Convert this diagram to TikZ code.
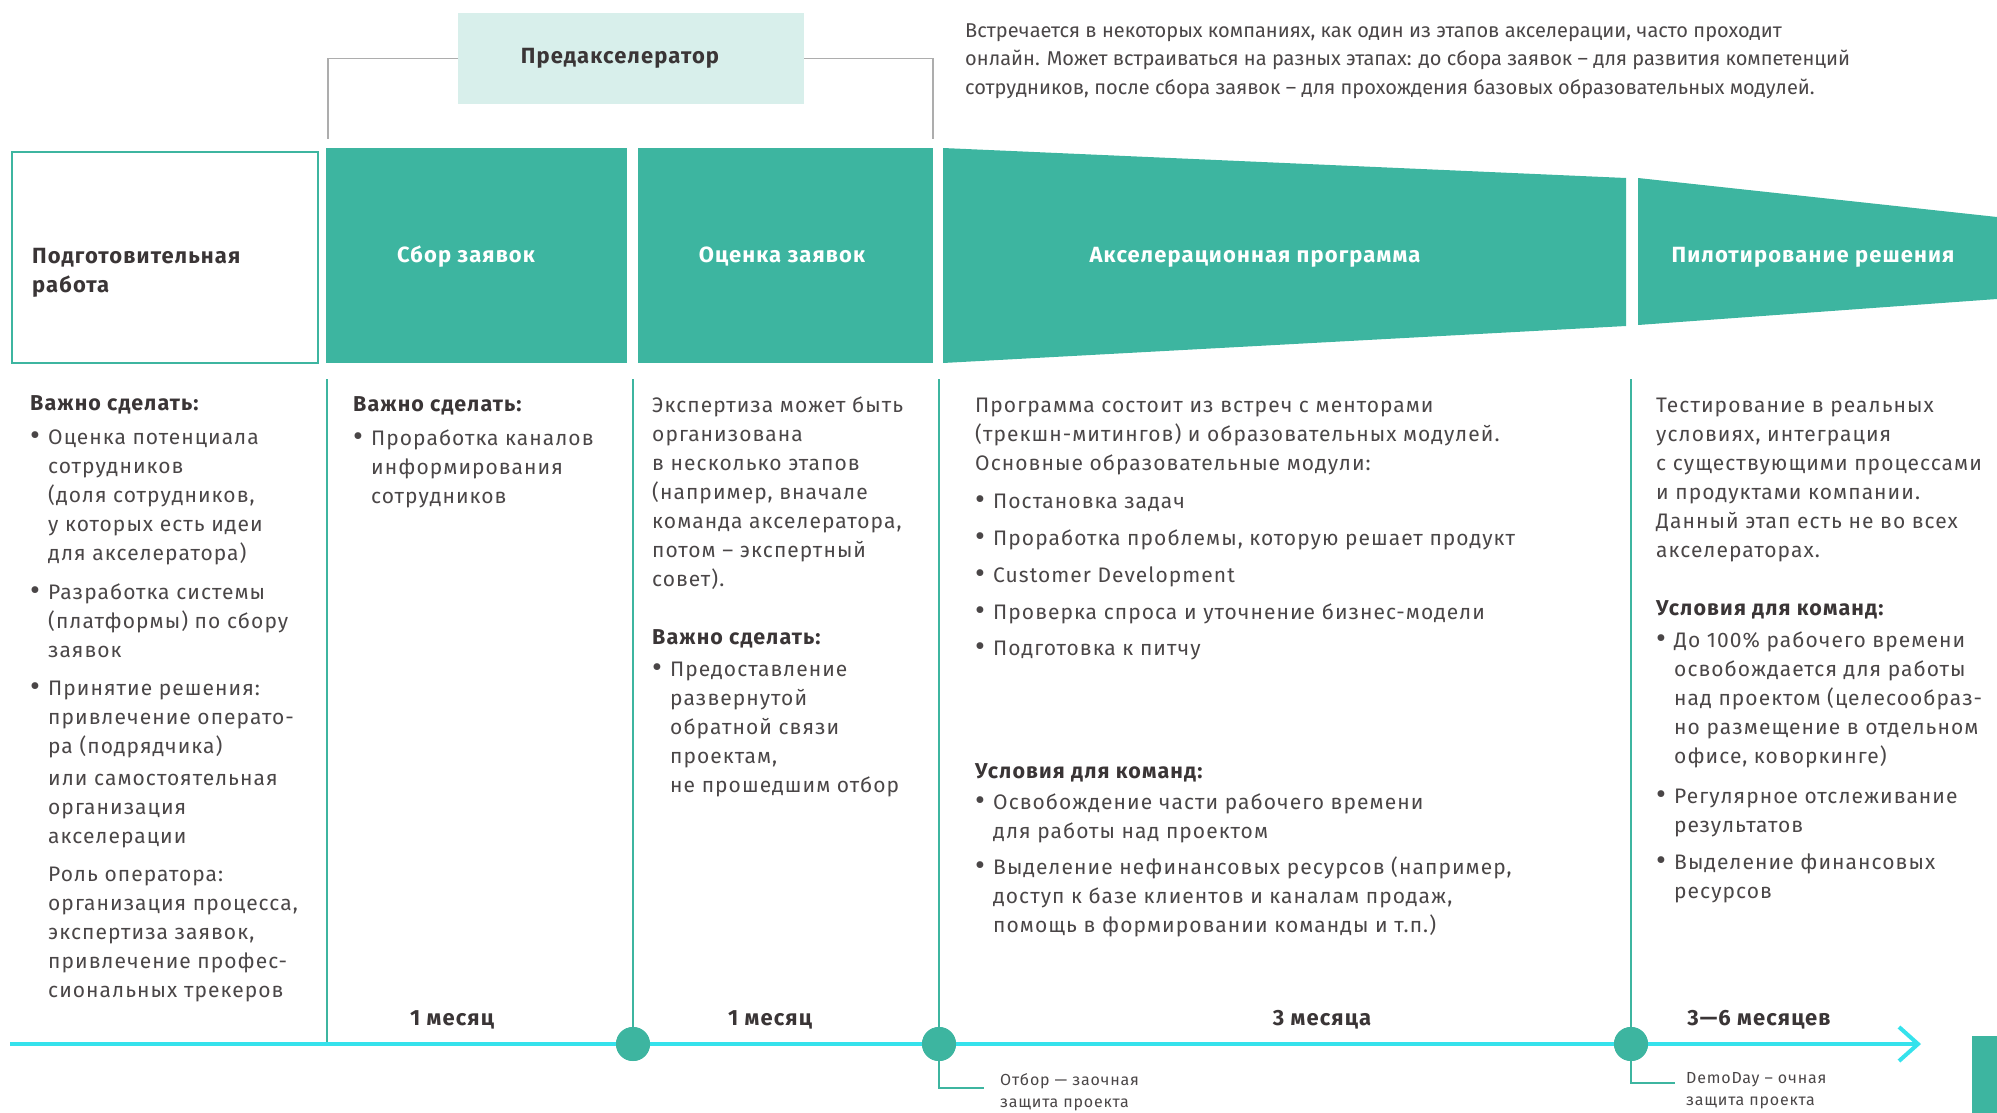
\documentclass[tikz,border=0pt]{standalone}
\usepackage{fontspec}
\setmainfont{Fira Sans}[LetterSpace=5]
\newfontfamily\descfont{Fira Sans}
\usetikzlibrary{calc}
\definecolor{tealbox}{HTML}{3DB5A0}
\definecolor{mint}{HTML}{D8EFEB}
\definecolor{cyanline}{HTML}{35E2EC}
\definecolor{bodytxt}{HTML}{4A4647}
\definecolor{darktxt}{HTML}{3A3536}
\definecolor{bracketgray}{HTML}{ADADAD}
\newcommand{\fsbody}{\fontsize{21}{29}\selectfont}
\newcommand{\fstop}{\descfont\fontsize{20}{28.5}\selectfont}
\newcommand{\fssmall}{\fontsize{16}{22}\selectfont}
\newcommand{\bl}{\makebox[18pt][l]{\raisebox{-0.5pt}{\scalebox{1.45}{•}}}}
\newcommand{\ii}{\hspace*{18pt}}
\newcommand{\hd}[1]{\textcolor{darktxt}{\fontsize{21.5}{29}\selectfont\textbf{#1}}}
\begin{document}
\begin{tikzpicture}[x=1pt,y=-1pt,
  body/.style={anchor=north west, inner sep=0pt, align=left, font=\fsbody, text=bodytxt},
  tealrect/.style={anchor=north west, fill=tealbox, inner sep=0pt, draw=none},
  boxlabel/.style={font=\fontsize{22}{26}\selectfont\bfseries, text=white, inner sep=0pt},
  sep/.style={tealbox, line width=1.3pt},
  dur/.style={font=\fontsize{22}{26}\selectfont\bfseries, text=darktxt, inner sep=0pt},
  dot/.style={circle, fill=tealbox, minimum size=34pt, inner sep=0pt},
  callout/.style={tealbox, line width=1.2pt},
  small/.style={anchor=north west, inner sep=0pt, align=left, font=\fssmall, text=bodytxt},
  brk/.style={bracketgray, line width=1.2pt}
]
\useasboundingbox (0,0) rectangle (1997,1113);

% --- Pre-accelerator
\node[anchor=north west, fill=mint, minimum width=346pt, minimum height=91pt, inner sep=0pt] (pre) at (458,13) {};
\node[font=\fontsize{22}{26}\selectfont\bfseries, text=darktxt, inner sep=0pt] (pretxt) at (620,58) {Предакселератор};
\coordinate (bl) at (328,139);
\coordinate (br) at (933,139);
\draw[brk] (pre.west) -| (bl);
\draw[brk] (pre.east) -| (br);

\node[anchor=north west, inner sep=0pt, align=left, font=\fstop, text=bodytxt] (desc) at (965,17) {\strut Встречается в некоторых компаниях, как один из этапов акселерации, часто проходит\\
онлайн. Может встраиваться на разных этапах: до сбора заявок – для развития компетенций\\
сотрудников, после сбора заявок – для прохождения базовых образовательных модулей.};

% --- Stage boxes
\node[anchor=north west, draw=tealbox, line width=2pt, minimum width=306pt, minimum height=211pt, inner sep=0pt] (b1) at (11,151) {};
\node[anchor=north west, inner sep=0pt, align=left, font=\fontsize{22}{29}\selectfont\bfseries, text=darktxt] (b1t) at (32,243) {\strut Подготовительная\\работа};

\node[tealrect, minimum width=301pt, minimum height=215pt] (b2) at (326,148) {};
\node[boxlabel] (b2t) at (466,257) {Сбор заявок};

\node[tealrect, minimum width=295pt, minimum height=215pt] (b3) at (638,148) {};
\node[boxlabel] (b3t) at (782,257) {Оценка заявок};

\fill[tealbox] (943,148) -- (1626,178) -- (1626,326) -- (943,363) -- cycle;
\node[boxlabel] (b4t) at (1255,257) {Акселерационная программа};

\fill[tealbox] (1638,178) -- (1997,217) -- (1997,299) -- (1638,325) -- cycle;
\node[boxlabel] (b5t) at (1813,257) {Пилотирование решения};

% --- Timeline
\coordinate (tl0) at (10,1044);
\coordinate (tl1) at (1918,1044);
\node[dot] (c1) at (633,1044) {};
\node[dot] (c2) at (939,1044) {};
\node[dot] (c3) at (1631,1044) {};
\coordinate (s0) at (327,379);
\coordinate (s0b) at (327,1044);
\coordinate (s1) at (633,379);
\coordinate (s2) at (939,379);
\coordinate (s3) at (1631,379);
\draw[sep] (s0) -- (s0b);
\draw[sep] (s1) -- (c1.center);
\draw[sep] (s2) -- (c2.center);
\draw[sep] (s3) -- (c3.center);
\draw[cyanline, line width=4.5pt] (tl0) -- (tl1);
\draw[cyanline, line width=4pt] ($(tl1)+(-19,-17)$) -- (tl1) -- ($(tl1)+(-19,17)$);
\node[dot] at (c1) {};
\node[dot] at (c2) {};
\node[dot] at (c3) {};

\node[dur] (d1) at (452,1020) {1 месяц};
\node[dur] (d2) at (770,1020) {1 месяц};
\node[dur] (d3) at (1322,1020) {3 месяца};
\node[dur] (d4) at (1759,1020) {3—6 месяцев};

% callouts
\coordinate (co1) at (984,1088);
\coordinate (co2) at (1675,1083);
\draw[callout] (c2.south) |- (co1);
\draw[callout] (c3.south) |- (co2);
\node[small] (co1t) at (1000,1070) {\strut Отбор — заочная\\защита проекта};
\node[small] (co2t) at (1686,1068) {\strut DemoDay – очная\\защита проекта};

\node[anchor=north west, fill=tealbox, minimum width=25pt, minimum height=77pt, inner sep=0pt] (corner) at (1972,1036) {};

% --- Column texts
\node[body] (t1) at (30,390) {\strut\hd{Важно сделать:}\\[5pt]
\bl Оценка потенциала\\
\ii сотрудников\\
\ii (доля сотрудников,\\
\ii у которых есть идеи\\
\ii для акселератора)\\[10pt]
\bl Разработка системы\\
\ii (платформы) по сбору\\
\ii заявок\\[9pt]
\bl Принятие решения:\\
\ii привлечение операто-\\
\ii ра (подрядчика)\\[3pt]
\ii или самостоятельная\\
\ii организация\\
\ii акселерации\\[9pt]
\ii Роль оператора:\\
\ii организация процесса,\\
\ii экспертиза заявок,\\
\ii привлечение профес-\\
\ii сиональных трекеров};

\node[body] (t2) at (353,391) {\strut\hd{Важно сделать:}\\[5pt]
\bl Проработка каналов\\
\ii информирования\\
\ii сотрудников};

\node[body] (t3) at (652,392) {\strut Экспертиза может быть\\
организована\\
в несколько этапов\\
(например, вначале\\
команда акселератора,\\
потом – экспертный\\
совет).\\[29pt]
\hd{Важно сделать:}\\[3pt]
\bl Предоставление\\
\ii развернутой\\
\ii обратной связи\\
\ii проектам,\\
\ii не прошедшим отбор};

\node[body] (t4) at (975,392) {\strut Программа состоит из встреч с менторами\\
(трекшн-митингов) и образовательных модулей.\\
Основные образовательные модули:\\[9pt]
\bl Постановка задач\\[8pt]
\bl Проработка проблемы, которую решает продукт\\[8pt]
\bl Customer Development\\[8pt]
\bl Проверка спроса и уточнение бизнес-модели\\[7pt]
\bl Подготовка к питчу};

\node[body] (t4b) at (975,758) {\strut\hd{Условия для команд:}\\[2pt]
\bl Освобождение части рабочего времени\\
\ii для работы над проектом\\[7pt]
\bl Выделение нефинансовых ресурсов (например,\\
\ii доступ к базе клиентов и каналам продаж,\\
\ii помощь в формировании команды и т.п.)};

\node[body] (t5) at (1656,392) {\strut Тестирование в реальных\\
условиях, интеграция\\
с существующими процессами\\
и продуктами компании.\\
Данный этап есть не во всех\\
акселераторах.};

\node[body] (t5b) at (1656,595) {\strut\hd{Условия для команд:}\\[3pt]
\bl До 100\% рабочего времени\\
\ii освобождается для работы\\
\ii над проектом (целесообраз-\\
\ii но размещение в отдельном\\
\ii офисе, коворкинге)\\[11pt]
\bl Регулярное отслеживание\\
\ii результатов\\[8pt]
\bl Выделение финансовых\\
\ii ресурсов};
\end{tikzpicture}
\end{document}
